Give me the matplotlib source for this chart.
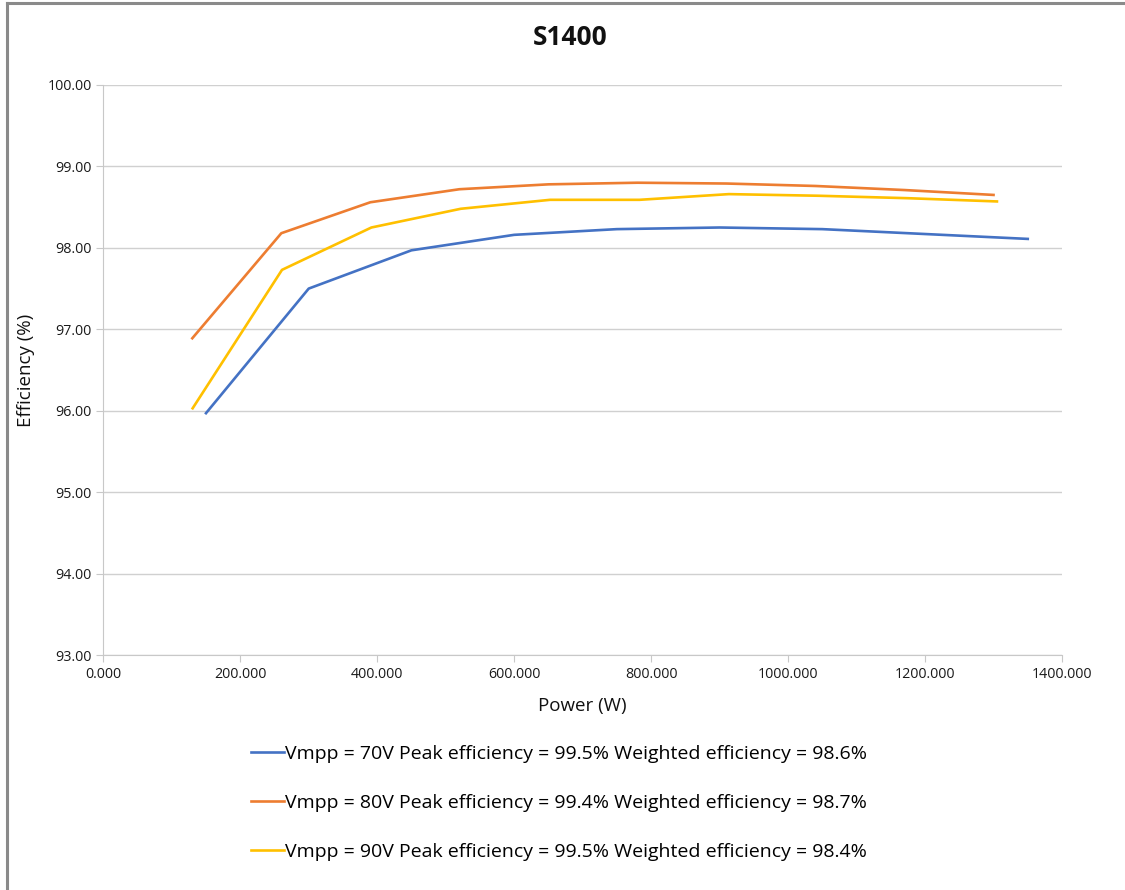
import matplotlib
matplotlib.use("Agg")
import matplotlib.pyplot as plt
from matplotlib.lines import Line2D
from matplotlib.ticker import FormatStrFormatter, MultipleLocator

# values
power_70v = [150, 300, 450, 600, 750, 900, 1050, 1200, 1350]
eff_70v = [95.97, 97.50, 97.97, 98.16, 98.23, 98.25, 98.23, 98.17, 98.11]

power_80v = [130, 260, 390, 520, 650, 780, 910, 1040, 1170, 1300]
eff_80v = [96.89, 98.18, 98.56, 98.72, 98.78, 98.80, 98.79, 98.76, 98.71, 98.65]

power_90v = [130.5, 261, 391.5, 522, 652.5, 783, 913.5, 1044, 1174.5, 1305]
eff_90v = [96.03, 97.73, 98.25, 98.48, 98.59, 98.59, 98.66, 98.64, 98.61, 98.57]

labels = [
    "Vmpp = 70V Peak efficiency = 99.5% Weighted efficiency = 98.6%",
    "Vmpp = 80V Peak efficiency = 99.4% Weighted efficiency = 98.7%",
    "Vmpp = 90V Peak efficiency = 99.5% Weighted efficiency = 98.4%",
]
colors = ["#4472C4", "#ED7D31", "#FFC000"]

plt.rcParams["font.family"] = ["Open Sans", "DejaVu Sans"]

fig = plt.figure(figsize=(11.25, 8.9), dpi=100)
ax = fig.add_axes([0.0918, 0.264, 0.8522, 0.6405])

series = [(power_70v, eff_70v), (power_80v, eff_80v), (power_90v, eff_90v)]
for (px, ey), col, lab in zip(series, colors, labels):
    ax.plot(px, ey, color=col, lw=1.9, label=lab, solid_joinstyle="round")

ax.set_xlim(0, 1400)
ax.set_ylim(93, 100)
ax.xaxis.set_major_locator(MultipleLocator(200))
ax.yaxis.set_major_locator(MultipleLocator(1))
ax.xaxis.set_major_formatter(FormatStrFormatter("%.3f"))
ax.yaxis.set_major_formatter(FormatStrFormatter("%.2f"))
ax.grid(axis="y", color="#d0d0d0", lw=1.0)
ax.set_axisbelow(True)
for side in ("top", "right"):
    ax.spines[side].set_visible(False)
for side in ("left", "bottom"):
    ax.spines[side].set_color("#c8c8c8")
ax.tick_params(colors="#c8c8c8", labelcolor="#1a1a1a", labelsize=10.3, length=5)

ax.set_xlabel("Power (W)", fontsize=13.5, color="#111111", labelpad=11)
ax.set_ylabel("Efficiency (%)", fontsize=13.5, color="#111111", labelpad=9)
fig.text(0.507, 0.958, "S1400", ha="center", va="center",
         fontsize=19, fontweight="bold", color="#111111")

handles = [Line2D([], [], color=c, lw=1.9) for c in colors]
fig.legend(handles, labels, loc="center", bbox_to_anchor=(0.497, 0.0978),
           frameon=False, fontsize=14, labelspacing=1.6,
           handlelength=1.7, handletextpad=0.05)

# the grey frame at the top and left edge of the screenshot
fig.add_artist(Line2D([0.0065, 0.0065], [0, 0.9966], color="#8a8a8a", lw=2.2,
                      transform=fig.transFigure))
fig.add_artist(Line2D([0.0065, 1.0], [0.9966, 0.9966], color="#8a8a8a", lw=2.2,
                      transform=fig.transFigure))

fig.savefig("out.png", dpi=100)
